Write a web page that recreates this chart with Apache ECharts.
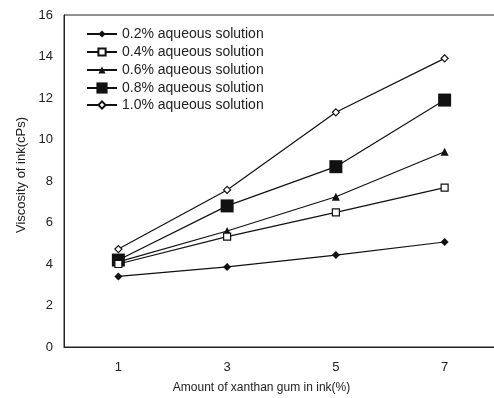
<!DOCTYPE html>
<html>
<head>
<meta charset="utf-8">
<script src="https://cdn.jsdelivr.net/npm/echarts@6/dist/echarts.min.js"></script>
<style>html,body{margin:0;padding:0;background:#fff}#c{width:494px;height:398px}</style>
</head>
<body>
<div id="c"></div>
<script>
const xValues = [1, 3, 5, 7];
const seriesNames = ['0.2% aqueous solution', '0.4% aqueous solution', '0.6% aqueous solution', '0.8% aqueous solution', '1.0% aqueous solution'];
const s02 = [3.4, 3.86, 4.43, 5.06];
const s04 = [4.0, 5.32, 6.49, 7.68];
const s06 = [4.1, 5.59, 7.24, 9.41];
const s08 = [4.19, 6.8, 8.69, 11.9];
const s10 = [4.72, 7.57, 11.31, 13.91];
const yTicks = [0, 2, 4, 6, 8, 10, 12, 14, 16];

const allData = [s02, s04, s06, s08, s10];
const symbols = ['diamond', 'rect', 'triangle', 'rect', 'diamond'];
const symbolSizes = [8, 7, 8, 13, 7];
const filled = [true, false, true, true, false];
const legendIconH = [9, 9, 9, 14, 9];
const legendCenters = [34, 52, 70, 88, 105];

const chart = echarts.init(document.getElementById('c'));
const font = 'Liberation Sans, Arial, sans-serif';
const legendFont = 14;
chart.setOption({
  animation: false,
  grid: { left: 64, top: 15, bottom: 51, width: 435, show: true, borderColor: '#222', borderWidth: 1, outerBoundsMode: 'none', containLabel: false },
  legend: seriesNames.map((n, i) => {
    const h = Math.max(legendIconH[i], legendFont);
    return {
      orient: 'vertical', left: 86, top: legendCenters[i] - h / 2, padding: 0,
      itemWidth: 30, itemHeight: legendIconH[i],
      textStyle: { fontFamily: font, fontSize: legendFont, color: '#222' },
      data: [n]
    };
  }),
  xAxis: {
    type: 'value', min: 0, max: 8,
    axisLine: { lineStyle: { color: '#222' } },
    axisTick: { show: false },
    splitLine: { show: false },
    axisLabel: { customValues: xValues, color: '#222', fontFamily: font, fontSize: 13, margin: 14 },
    name: 'Amount of xanthan gum in ink(%)', nameLocation: 'middle', nameGap: 35,
    nameTextStyle: { fontFamily: font, fontSize: 12, color: '#222', padding: [0, 40, 0, 0] }
  },
  yAxis: {
    type: 'value', min: 0, max: 16, interval: 2,
    axisLine: { show: true, lineStyle: { color: '#222' } },
    axisTick: { show: false },
    splitLine: { show: false },
    axisLabel: { customValues: yTicks, color: '#222', fontFamily: font, fontSize: 13, margin: 11 },
    name: 'Viscosity of ink(cPs)', nameLocation: 'middle', nameGap: 34,
    nameTextStyle: { fontFamily: font, fontSize: 13, color: '#222', padding: [0, 0, 0, 12] }
  },
  series: seriesNames.map((n, i) => ({
    name: n, type: 'line',
    data: xValues.map((x, j) => [x, allData[i][j]]),
    symbol: symbols[i], symbolSize: symbolSizes[i],
    showAllSymbol: true,
    lineStyle: { color: '#111', width: 1.2 },
    itemStyle: { color: filled[i] ? '#111' : '#fff', borderColor: '#111', borderWidth: filled[i] ? 0 : 1.2 },
    z: 10 - i
  }))
});
</script>
</body>
</html>
